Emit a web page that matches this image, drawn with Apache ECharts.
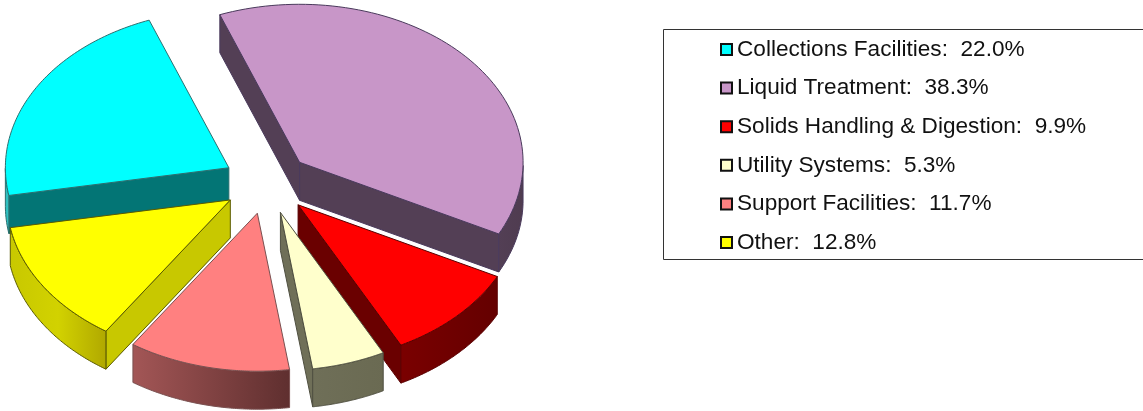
<!DOCTYPE html>
<html>
<head>
<meta charset="utf-8">
<title>Cost breakdown</title>
<script src="https://cdn.jsdelivr.net/npm/echarts@6/dist/echarts.min.js"></script>
<style>
    html, body { margin: 0; padding: 0; background: #fff; }
    #chart { width: 1143px; height: 411px; }
</style>
</head>
<body>
<div id="chart"></div>
<script>
    // legend order is also clockwise order round the pie
    var categories = ['Collections Facilities', 'Liquid Treatment', 'Solids Handling & Digestion', 'Utility Systems', 'Support Facilities', 'Other'];
    var shares = [22.0, 38.3, 9.9, 5.3, 11.7, 12.8];

    var topColors = ['#00ffff', '#c896c8', '#ff0000', '#ffffcc', '#ff8080', '#ffff00'];
    var faceColors = ['#037575', '#533f55', '#6a0000', '#6f6f58', '#7f4040', '#c8c800'];
    var rimColors = [['#30c0c0', '#30c0c0'], ['#533f55', '#4f3c50'], ['#7a0000', '#640000'], ['#6f6f58', '#6a6a52'], ['#a35656', '#5f2f2f'], ['#c8c800', '#d2d200', '#b0a800']];
    var edgeColors = ['#2a7070', '#4a3a5c', '#5a0000', '#4f4f40', '#7a5050', '#5a5a00'];
    var drawOrder = [1, 0, 2, 3, 5, 4]; // back to front, by slice index

    // pie geometry, px
    var centerX = 267, centerY = 183;
    var radiusX = 223.5, radiusY = 158;
    var depth = 38;
    var explode = 0.196;
    var firstAngle = 169.9;

    var total = shares.reduce(function(a, b) { return a + b; }, 0);

    function sliceAngles(index) {
        var before = 0;
        for (var i = 0; i < index; i++) before += shares[i];
        return [firstAngle + before / total * 360, firstAngle + (before + shares[index]) / total * 360];
    }

    function ringPoint(deg, scale, ox, oy) {
        var rad = deg * Math.PI / 180;
        return [ox + scale * radiusX * Math.cos(rad), oy + scale * radiusY * Math.sin(rad)];
    }

    function down(p) {
        return [p[0], p[1] + depth];
    }

    function poly(points, fill, stroke) {
        return {
            type: 'polygon',
            shape: { points: points },
            style: { fill: fill, stroke: stroke, lineWidth: 1, lineJoin: 'round' }
        };
    }

    function renderSlice(index) {
        return function() {
            var a = sliceAngles(index);
            var mid = (a[0] + a[1]) / 2;
            var apex = ringPoint(mid, explode, centerX, centerY);
            var start = ringPoint(a[0], 1, apex[0], apex[1]);
            var end = ringPoint(a[1], 1, apex[0], apex[1]);
            var children = [];
            var arc = [];
            for (var s = 0; s <= 80; s++) {
                arc.push(ringPoint(a[0] + (a[1] - a[0]) * s / 80, 1, apex[0], apex[1]));
            }

            // radial walls, only those facing the viewer
            if (start[0] < apex[0]) {
                children.push(poly([apex, start, down(start), down(apex)], faceColors[index], edgeColors[index]));
            }
            if (apex[0] < end[0]) {
                children.push(poly([end, apex, down(apex), down(end)], faceColors[index], edgeColors[index]));
            }

            // outer rim, front half of the ellipse only
            var rim = [];
            for (var r = 0; r <= 80; r++) {
                var deg = a[0] + (a[1] - a[0]) * r / 80;
                if (Math.sin(deg * Math.PI / 180) >= 0) rim.push(ringPoint(deg, 1, apex[0], apex[1]));
            }
            if (rim.length > 1) {
                var lower = rim.map(down).reverse();
                var stops = rimColors[index].map(function(color, k, list) {
                    return { offset: k / (list.length - 1), color: color };
                });
                var fill = new echarts.graphic.LinearGradient(0, 0, 1, 0, stops);
                children.push(poly(rim.concat(lower), fill, edgeColors[index]));
            }

            children.push(poly([apex].concat(arc), topColors[index], edgeColors[index]));
            return { type: 'group', children: children };
        };
    }

    function legendName(index) {
        return categories[index] + ':  ' + shares[index].toFixed(1) + '%';
    }

    var series = categories.map(function(name, i) {
        return {
            name: legendName(i),
            type: 'custom',
            coordinateSystem: 'none',
            z: 2 + drawOrder.indexOf(i),
            silent: true,
            itemStyle: { color: topColors[i] },
            renderItem: renderSlice(i),
            data: [[shares[i]]]
        };
    });

    var myChart = echarts.init(document.getElementById('chart'), null, { renderer: 'canvas' });
    myChart.setOption({
        animation: false,
        backgroundColor: '#ffffff',
        graphic: [{
            type: 'rect',
            shape: { x: 663.5, y: 29.5, width: 500, height: 230 },
            style: { fill: 'none', stroke: '#333333', lineWidth: 1 },
            silent: true
        }],
        legend: {
            show: true,
            orient: 'vertical',
            left: 720,
            top: 38,
            padding: 0,
            icon: 'rect',
            itemWidth: 11,
            itemHeight: 11,
            itemGap: 15.6,
            selectedMode: false,
            itemStyle: { borderColor: '#111111', borderWidth: 2 },
            textStyle: {
                fontFamily: '"Liberation Sans", Arial, sans-serif',
                fontSize: 22.6,
                lineHeight: 22,
                color: '#111111'
            },
            data: categories.map(function(name, i) { return legendName(i); })
        },
        series: series
    });
</script>
</body>
</html>
